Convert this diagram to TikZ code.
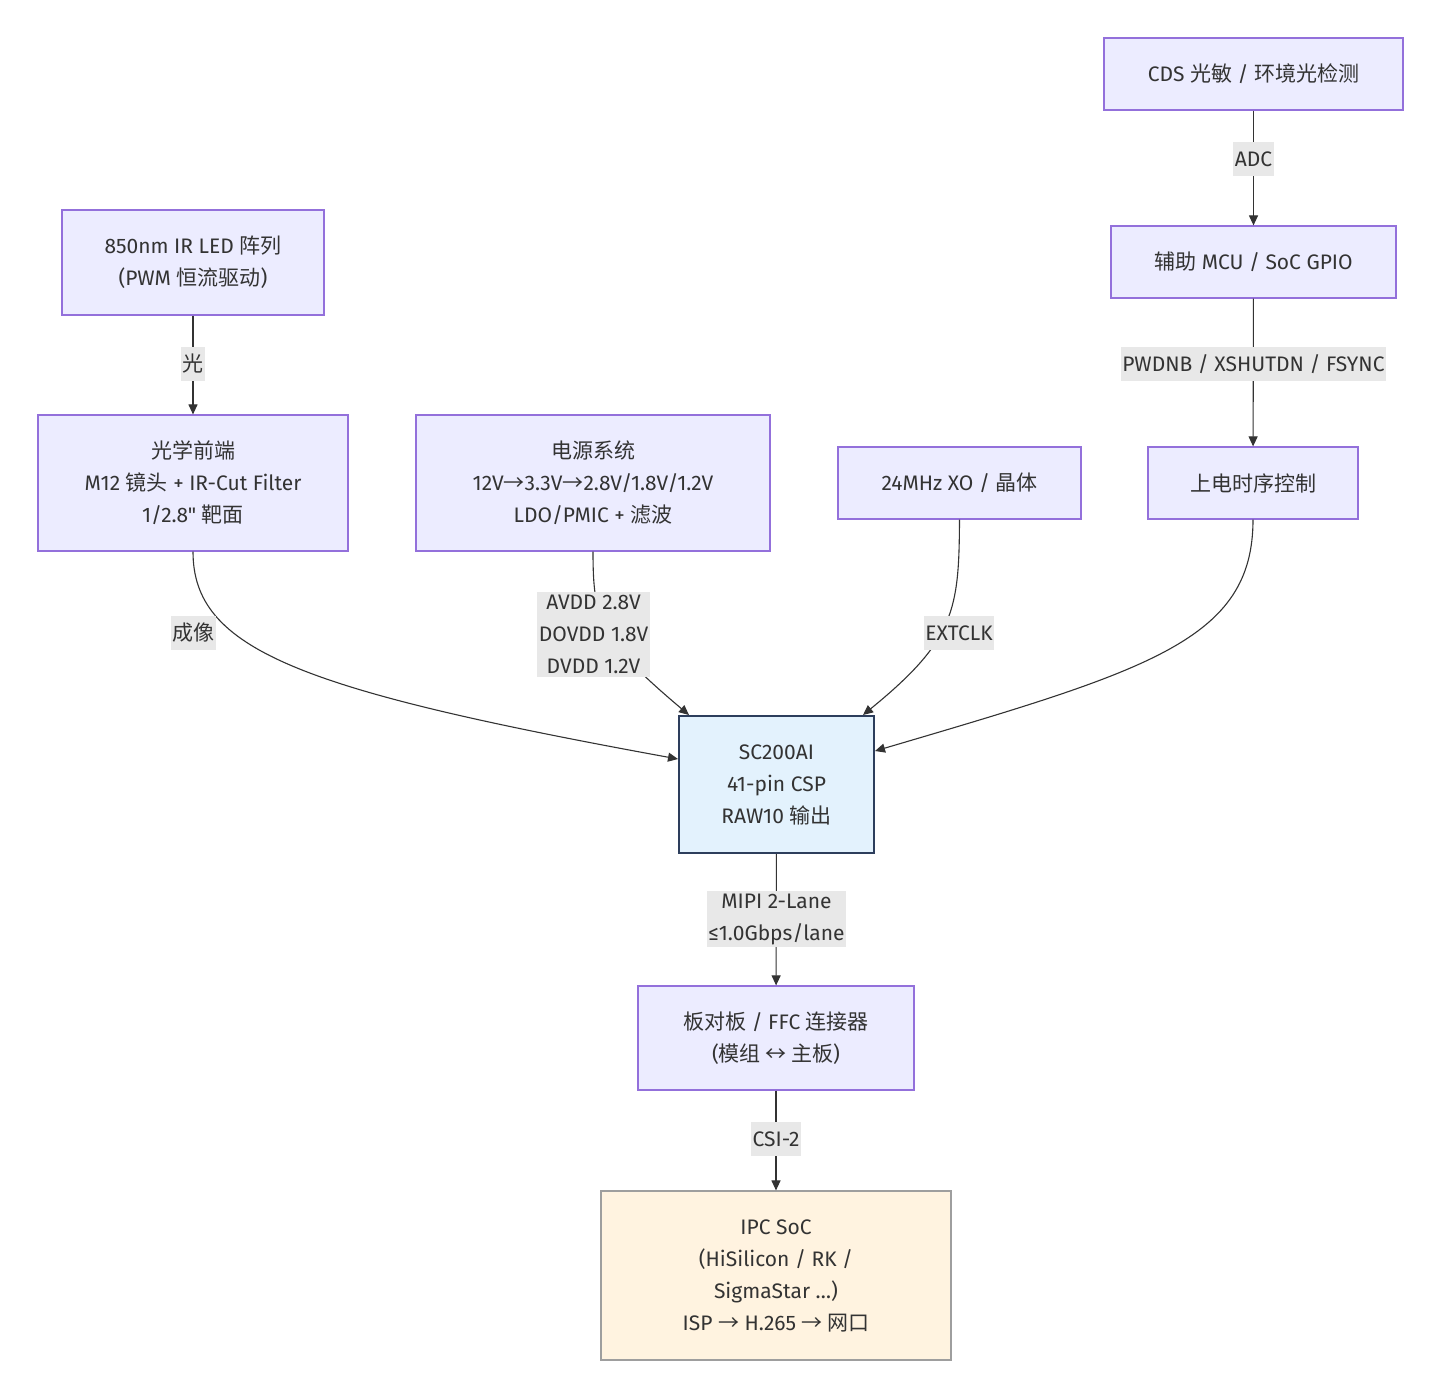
\documentclass[tikz,border=0pt]{standalone}
\usepackage{fontspec}
\setmainfont{Fira Sans}[Ligatures=TeXOff]
\newfontfamily\cjk{Noto Sans CJK SC}
\usetikzlibrary{arrows.meta}
\definecolor{boxfill}{HTML}{ECECFF}
\definecolor{boxline}{HTML}{9370DB}
\definecolor{txt}{HTML}{333333}
\definecolor{lblbg}{HTML}{E8E8E8}
\definecolor{sensfill}{HTML}{E3F2FD}
\definecolor{sensline}{HTML}{2D3E5C}
\definecolor{socfill}{HTML}{FFF3E0}
\definecolor{socline}{HTML}{9E9E9E}
\newcommand{\zh}[1]{{\cjk #1}}
\begin{document}
\begin{tikzpicture}[x=1pt,y=-1pt, font=\fontsize{21}{32}\selectfont,
 box/.style={draw=boxline, fill=boxfill, line width=1.2pt, align=center, inner sep=0pt, text=txt},
 lbl/.style={fill=lblbg, inner xsep=1.5pt, inner ysep=3pt, minimum height=34pt, align=center, text=txt},
 edge/.style={draw=txt, line width=1.1pt, -{Triangle[length=10pt,width=9pt]}}]
\useasboundingbox[fill=white] (0,0) rectangle (1440,1398);

% nodes
\node[box, minimum width=299pt, minimum height=72pt] (cds) at (1253.5,74) {CDS \zh{光敏} / \zh{环境光检测}};
\node[box, minimum width=285pt, minimum height=72pt] (mcu) at (1253.5,262) {\zh{辅助} MCU / SoC GPIO};
\node[box, minimum width=210pt, minimum height=72pt] (pwr) at (1253,483) {\zh{上电时序控制}};
\node[box, minimum width=262pt, minimum height=105pt] (led) at (193,262.5) {850nm IR LED \zh{阵列}\\(PWM \zh{恒流驱动})};
\node[box, minimum width=310pt, minimum height=136pt] (opt) at (193,483) {\zh{光学前端}\\M12 \zh{镜头} + IR-Cut Filter\\1/2.8" \zh{靶面}};
\node[box, minimum width=354pt, minimum height=136pt] (psu) at (593,483) {\zh{电源系统}\\12V\zh{→}3.3V\zh{→}2.8V/1.8V/1.2V\\LDO/PMIC + \zh{滤波}};
\node[box, minimum width=243pt, minimum height=72pt] (xo) at (959.5,483) {24MHz XO / \zh{晶体}};
\node[box, draw=sensline, fill=sensfill, line width=2pt, minimum width=195pt, minimum height=137pt] (sc) at (776.5,784.5) {SC200AI\\41-pin CSP\\RAW10 \zh{输出}};
\node[box, minimum width=276pt, minimum height=104pt] (ffc) at (776,1038) {\zh{板对板} / FFC \zh{连接器}\\(\zh{模组 ↔ 主板})};
\node[box, draw=socline, fill=socfill, minimum width=350pt, minimum height=169pt] (soc) at (776,1275.5) {IPC SoC\\(HiSilicon / RK /\\SigmaStar …)\\ISP \zh{→} H.265 \zh{→ 网口}};

% edges
\draw[edge] (cds) -- (mcu);
\draw[edge] (mcu) -- (pwr);
\draw[edge] (led) -- (opt);
\draw[edge] (opt.south) .. controls (193,650) and (300,690) .. ([yshift=-44pt]sc.north west);
\draw[edge] (psu.south) .. controls (593,620) and (600,640) .. ([xshift=11pt]sc.north west);
\draw[edge] (xo.south) .. controls (959,610) and (955,640) .. ([xshift=-12pt]sc.north east);
\draw[edge] (pwr.south) .. controls (1253,640) and (1150,670) .. ([yshift=-36pt]sc.north east);
\draw[edge] (sc) -- (ffc);
\draw[edge] (ffc) -- (soc);

% labels
\node[lbl] (lADC) at (1253.5,159) {ADC};
\node[lbl] (lGPIO) at (1253.5,364) {PWDNB / XSHUTDN / FSYNC};
\node[lbl] (lLight) at (193,364) {\zh{光}};
\node[lbl] (lImg) at (193,633) {\zh{成像}};
\node[lbl] (lPwr) at (593.5,634.5) {AVDD 2.8V\\DOVDD 1.8V\\DVDD 1.2V};
\node[lbl] (lClk) at (959,633) {EXTCLK};
\node[lbl] (lMipi) at (776.5,919) {MIPI 2-Lane\\≤1.0Gbps/lane};
\node[lbl] (lCsi) at (776,1139) {CSI-2};
\end{tikzpicture}
\end{document}
